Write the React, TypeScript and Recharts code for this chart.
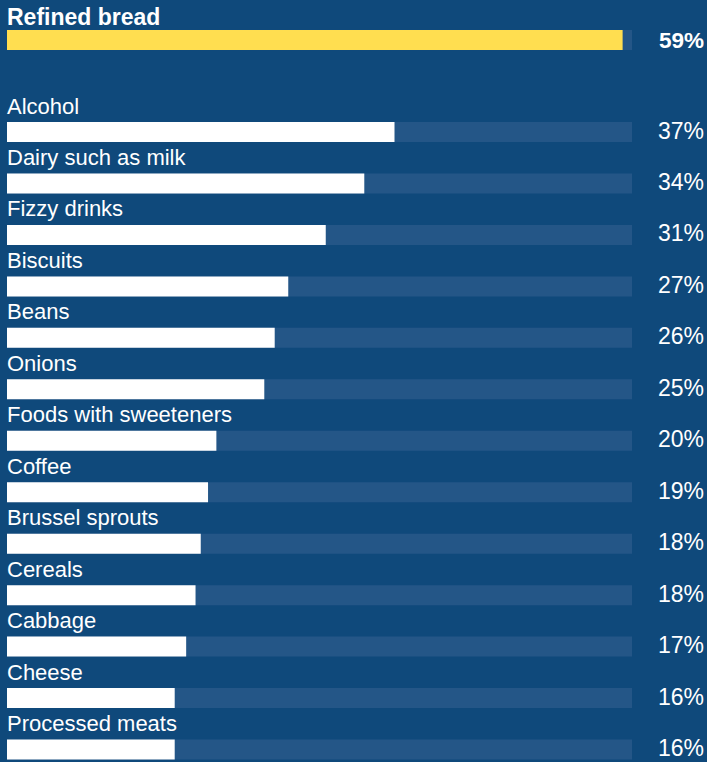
import React from 'react';
import { BarChart, Bar, XAxis, YAxis, LabelList } from 'recharts';

// Highlighted top row
const topCategories = ['Refined bread'];
const topValues = [59.1];
const topLabels = ['59%'];

// Remaining rows
const categories = [
  'Alcohol',
  'Dairy such as milk',
  'Fizzy drinks',
  'Biscuits',
  'Beans',
  'Onions',
  'Foods with sweeteners',
  'Coffee',
  'Brussel sprouts',
  'Cereals',
  'Cabbage',
  'Cheese',
  'Processed meats',
];
const values = [37.2, 34.3, 30.6, 27.0, 25.7, 24.7, 20.1, 19.3, 18.6, 18.1, 17.2, 16.1, 16.1];
const valueLabels = ['37%', '34%', '31%', '27%', '26%', '25%', '20%', '19%', '18%', '18%', '17%', '16%', '16%'];

const domainMax = 60;

const BG = '#0f497b';
const TRACK = '#245687';
const YELLOW = '#ffde50';
const WHITE = '#ffffff';
const FONT = '"Liberation Sans", Arial, Helvetica, sans-serif';

const topData = topCategories.map((name, i) => ({ name, value: topValues[i], label: topLabels[i] }));
const data = categories.map((name, i) => ({ name, value: values[i], label: valueLabels[i] }));

const makeNameLabel = (bold: boolean, size: number, gap: number) => (props: any) => {
  const { x, y, value } = props;
  return (
    <text
      x={x}
      y={y - gap}
      fill={WHITE}
      fontFamily={FONT}
      fontSize={size}
      fontWeight={bold ? 700 : 400}
      textAnchor="start"
    >
      {value}
    </text>
  );
};

const makePctLabel = (bold: boolean, size: number, dy: number) => (props: any) => {
  const { y, height, value } = props;
  return (
    <text
      x={704}
      y={y + height / 2 + dy}
      fill={WHITE}
      fontFamily={FONT}
      fontSize={size}
      fontWeight={bold ? 700 : 400}
      textAnchor="end"
    >
      {value}
    </text>
  );
};

export default function App() {
  return (
    <div
      style={{
        position: 'absolute',
        left: 0,
        top: 0,
        width: 707,
        height: 762,
        overflow: 'hidden',
        background: BG,
      }}
    >
      <div style={{ position: 'absolute', left: 0, top: 0 }}>
        <BarChart
          width={707}
          height={106}
          data={topData}
          layout="vertical"
          margin={{ top: 0, right: 75, bottom: 26, left: 7 }}
        >
          <XAxis type="number" domain={[0, domainMax]} hide />
          <YAxis type="category" dataKey="name" hide />
          <Bar
            dataKey="value"
            fill={YELLOW}
            barSize={20}
            background={{ fill: TRACK }}
            isAnimationActive={false}
          >
            <LabelList dataKey="name" content={makeNameLabel(true, 23, 5)} />
            <LabelList dataKey="label" content={makePctLabel(true, 22.5, 7.7)} />
          </Bar>
        </BarChart>
      </div>
      <div style={{ position: 'absolute', left: 0, top: 0 }}>
        <BarChart
          width={707}
          height={775}
          data={data}
          layout="vertical"
          margin={{ top: 106, right: 75, bottom: 0, left: 7 }}
        >
          <XAxis type="number" domain={[0, domainMax]} hide />
          <YAxis type="category" dataKey="name" hide />
          <Bar
            dataKey="value"
            fill={WHITE}
            barSize={20}
            background={{ fill: TRACK }}
            isAnimationActive={false}
          >
            <LabelList dataKey="name" content={makeNameLabel(false, 22, 8.5)} />
            <LabelList dataKey="label" content={makePctLabel(false, 23, 6.5)} />
          </Bar>
        </BarChart>
      </div>
    </div>
  );
}
